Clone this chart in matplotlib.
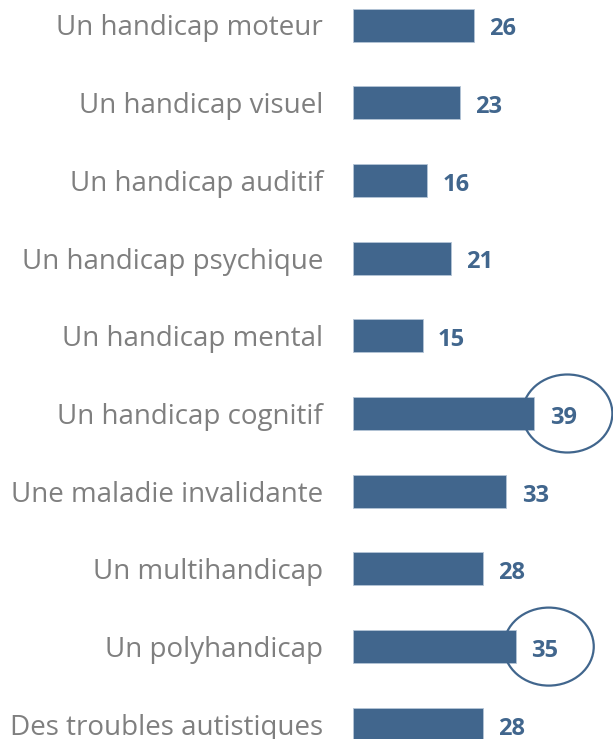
import matplotlib
matplotlib.use("Agg")
import matplotlib.pyplot as plt
from matplotlib.patches import Ellipse

categories = [
    "Un handicap moteur",
    "Un handicap visuel",
    "Un handicap auditif",
    "Un handicap psychique",
    "Un handicap mental",
    "Un handicap cognitif",
    "Une maladie invalidante",
    "Un multihandicap",
    "Un polyhandicap",
    "Des troubles autistiques",
]
values = [26, 23, 16, 21, 15, 39, 33, 28, 35, 28]
circled = ["Un handicap cognitif", "Un polyhandicap"]

bar_color = "#41668d"
W, H = 613, 739

fig = plt.figure(figsize=(W / 100, H / 100), dpi=100)
ax = fig.add_axes([353 / W, 0, 1 - 353 / W, 1])

px_per_unit = 4.65
row_px = 77.7
top_px = 25

ypos = list(range(len(categories)))
bars = ax.barh(ypos, values, height=33 / row_px, color=bar_color,
               edgecolor="#b4c4d6", linewidth=0.6)

ax.set_xlim(0, (W - 353) / px_per_unit)
ax.set_ylim((H - top_px) / row_px, -top_px / row_px)

ax.set_yticks(ypos)
ax.set_yticklabels(categories, fontsize=20, color="#7f7f7f",
                   family=["Open Sans", "DejaVu Sans"])
ax.tick_params(axis="y", length=0, pad=21.5)
ax.set_xticks([])
for s in ax.spines.values():
    s.set_visible(False)

for y, v in zip(ypos, values):
    ax.annotate(str(v), (v, y), xytext=(11, -1), textcoords="offset points",
                ha="left", va="center_baseline", fontsize=17, fontweight="bold",
                color=bar_color, family=["Open Sans", "DejaVu Sans"])

# ellipses around the highlighted values
for name in circled:
    i = categories.index(name)
    v = values[i]
    ell = Ellipse((v + 33 / px_per_unit, i), width=90 / px_per_unit,
                  height=78 / row_px, fill=False, edgecolor=bar_color,
                  linewidth=1.6, clip_on=False)
    ax.add_patch(ell)

fig.savefig("out.png", dpi=100)
